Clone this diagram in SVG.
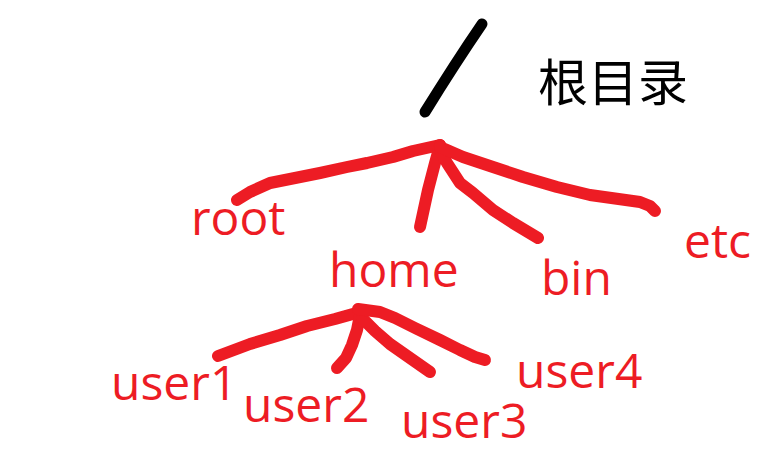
<svg xmlns="http://www.w3.org/2000/svg" width="783" height="465" viewBox="0 0 783 465">
<style>
.r{fill:none;stroke:#ED1C24;stroke-width:12;stroke-linecap:round;stroke-linejoin:round}
.k{fill:none;stroke:#000;stroke-width:11;stroke-linecap:round}
.t{font-family:"Open Sans","Liberation Sans",sans-serif;font-size:48px;fill:#ED1C24}
.c{font-family:"Noto Sans CJK SC","Noto Sans",sans-serif;font-size:50px;fill:#000}
</style>
<rect width="783" height="465" fill="#fff"/>
<g id="connectors">
<path class="k" d="M482,24 Q456,62 425,112"/>
<polyline class="r" points="237,200 250,192 270,183 290,179 320,173 347,167 367,163 393,157 413,151 440,145"/>
<polyline class="r" points="440,145 435,163 428,190 420,227"/>
<polyline class="r" points="440,150 447,163 460,183 473,193 493,210 513,223 538,238"/>
<polyline class="r" points="440,147 463,157 493,167 523,177 557,187 590,195 640,202 650,206 655,211"/>
<polyline class="r" points="218,356 250,344 280,335 307,326 335,319 360,312"/>
<polyline class="r" points="360,315 357,330 352,345 346,358 337,368"/>
<polyline class="r" points="362,318 375,331 390,344 410,358 430,372"/>
<polyline class="r" points="358,309 380,312 395,318 415,328 440,340 460,350 475,357 485,360"/>
</g>
<g id="node-root-dir"><text class="c" x="538" y="101">根目录</text></g>
<g id="node-root"><text class="t" x="191" y="235">root</text></g>
<g id="node-home"><text class="t" x="329" y="287">home</text></g>
<g id="node-bin"><text class="t" x="541" y="295">bin</text></g>
<g id="node-etc"><text class="t" x="684" y="258">etc</text></g>
<g id="node-user1"><text class="t" x="111" y="400">user1</text></g>
<g id="node-user2"><text class="t" x="243" y="422">user2</text></g>
<g id="node-user3"><text class="t" x="401" y="438">user3</text></g>
<g id="node-user4"><text class="t" x="516" y="388">user4</text></g>
</svg>
